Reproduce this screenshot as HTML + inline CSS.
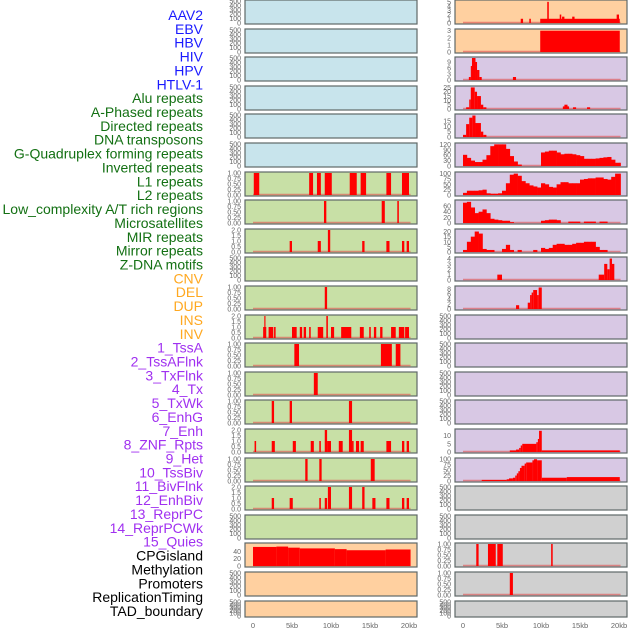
<!DOCTYPE html>
<html><head><meta charset="utf-8"><style>
body{margin:0;background:#fff;width:630px;height:630px;overflow:hidden}
svg{display:block}
text{font-family:"Liberation Sans",sans-serif}
</style></head><body>
<svg id="chart" width="630" height="630" xmlns="http://www.w3.org/2000/svg">
<g id="labels"></g>
<g id="panels"></g>
</svg>
<script>
// ---- data ----
const labelNames = ["AAV2","EBV","HBV","HIV","HPV","HTLV-1","Alu repeats","A-Phased repeats","Directed repeats","DNA transposons","G-Quadruplex forming repeats","Inverted repeats","L1 repeats","L2 repeats","Low_complexity A/T rich regions","Microsatellites","MIR repeats","Mirror repeats","Z-DNA motifs","CNV","DEL","DUP","INS","INV","1_TssA","2_TssAFlnk","3_TxFlnk","4_Tx","5_TxWk","6_EnhG","7_Enh","8_ZNF_Rpts","9_Het","10_TssBiv","11_BivFlnk","12_EnhBiv","13_ReprPC","14_ReprPCWk","15_Quies","CPGisland","Methylation","Promoters","ReplicationTiming","TAD_boundary"];
const labelGroups = ["v","v","v","v","v","v","r","r","r","r","r","r","r","r","r","r","r","r","r","s","s","s","s","s","c","c","c","c","c","c","c","c","c","c","c","c","c","c","c","k","k","k","k","k"];
const xTicks = [0,5,10,15,20];
const xTickLabels = ["0","5kb","10kb","15kb","20kb"];
const EMPTY_TICKS = [0,100,200,300,400,500];
const T1 = [0,0.25,0.5,0.75,1], T1L = ["0.00","0.25","0.50","0.75","1.00"];
const T2 = [0,0.5,1,1.5,2], T2L = ["0.0","0.5","1.0","1.5","2.0"];
// segments [start_kb, end_kb, value]
const segL7 = [[0.1,0.8,1],[7.2,7.7,1],[8.2,8.7,1],[9.2,10.1,1],[12.4,13.3,1],[13.8,14.5,1],[17.1,17.7,1],[19.1,20.0,1]];
const segL8 = [[9.1,9.4,1],[16.5,16.9,1],[18.5,18.7,1]];
const segL9 = [[4.7,5.0,1],[8.3,8.7,1],[9.6,9.9,2],[14.0,14.3,1],[17.1,17.5,1],[19.1,19.4,1],[19.7,20.0,1]];
const segL11 = [[9.2,9.5,1]];
const segL12 = [[1.3,1.7,1],[1.45,1.6,2],[2.0,2.6,1],[2.7,2.9,1],[5.0,5.6,1],[6.0,6.3,1],[6.5,6.8,1],[7.2,7.4,1],[8.3,9.0,1],[9.4,9.6,2],[10.0,10.4,1],[11.3,12.6,1],[13.7,14.2,1],[14.9,15.1,1],[15.5,15.8,1],[16.3,16.6,1],[17.7,18.3,1],[18.7,19.4,1],[19.5,20.0,1]];
const segL13 = [[5.3,5.9,1],[16.4,17.8,1],[18.3,18.9,1]];
const segL14 = [[7.8,8.3,1]];
const segL15 = [[2.4,2.7,1],[4.7,5.0,1],[12.3,12.7,1]];
const segL16 = [[0.2,0.4,1],[2.4,2.8,1],[5.1,5.5,1],[7.4,7.8,1],[8.5,8.7,1],[9.2,9.5,2],[9.5,10.0,1],[11.0,11.5,1],[12.3,12.7,2],[12.7,12.9,1],[13.2,13.6,1],[13.8,14.2,1],[17.1,17.7,1],[19.1,19.4,1],[19.7,20.0,1]];
const segL17 = [[6.7,7.0,1],[8.5,8.8,1],[15.1,15.6,1]];
const segL18 = [[2.4,2.7,1],[4.7,5.1,1],[8.5,8.7,1],[9.2,9.5,1],[9.6,10.0,2],[12.3,12.7,2],[14.0,14.3,2],[15.3,15.7,1],[17.1,17.5,1],[19.1,19.4,1],[19.7,20.0,1]];
const segL20 = [[0,3,52],[3,4.5,53],[4.5,6,50],[6,10.5,48],[10.5,12,46],[12,17,43],[17,20.2,45]];
const segR1 = [[7.4,7.7,1],[8.5,8.7,1],[9.9,20.1,1],[10.8,11.0,5],[12.4,12.6,2],[12.7,13.0,1.5],[14.0,14.3,1.5],[19.7,20.0,2]];
const segR2 = [[9.9,20.1,3]];
const segR3 = [[0.75,1.0,1.5],[1.0,1.15,7],[1.15,1.6,11],[1.6,1.8,9],[1.8,2.1,5],[2.1,2.4,1.5],[6.4,6.8,1.5]];
const segR4 = [[0.4,0.8,2],[0.8,1.0,11],[1.0,1.5,25],[1.5,1.8,20],[1.8,2.3,15],[2.3,2.6,5],[2.6,3.0,2],[12.8,13.6,3],[13.0,13.4,5],[14.1,14.5,2],[15.9,16.3,2]];
const segR5 = [[0,0.4,2],[0.4,0.8,12],[0.8,1.2,18],[1.2,1.6,20],[1.6,2.3,13],[2.3,2.6,5],[2.6,3.0,2]];
const binsR6 = [62,45,30,22,22,35,60,110,120,120,120,95,55,25,8,0,0,0,0,0,75,80,85,85,75,65,68,68,65,60,55,40,40,40,42,45,48,50,35,18,18];
const binsR7 = [10,20,20,20,22,25,8,6,6,8,20,55,95,100,90,65,55,45,40,35,55,50,38,35,50,60,60,55,55,55,72,75,78,78,82,82,75,72,85,100,100];
const binsR8 = [72,75,55,35,40,48,35,15,12,10,8,8,3,0,0,0,0,0,0,0,8,10,12,12,10,0,0,5,5,5,0,5,5,5,0,5,5,0,0,0,0];
const binsR9 = [2,10,15,20,18,3,2,2,0,0,3,7,2,0,2,0,0,0,2,0,4,3,4,7,8,8,7,7,8,9,9,10,10,10,5,2,2,0,0,0,0];
const segR10 = [[4.4,5.0,1],[17.4,18.1,1],[18.1,18.5,3],[18.5,18.8,2],[18.8,19.1,4],[19.1,19.4,3]];
const segR11 = [[6.8,7.2,1.5],[8.3,8.6,2.5],[8.6,8.8,5.5],[8.8,9.0,6.5],[9.0,9.5,7.5],[9.5,9.7,5.5],[9.7,10.1,8.5]];
const segR16 = [[6.0,6.8,1],[6.8,7.2,1.5],[7.2,7.4,2.5],[7.4,7.6,4],[7.6,9.4,5],[9.4,9.6,6],[9.6,9.75,8],[9.75,10.1,13],[10.1,20.1,1]];
const segR17 = [[2.4,5.6,5],[5.6,5.9,8],[5.9,6.4,12],[6.4,6.7,15],[6.7,6.9,25],[6.9,7.1,35],[7.1,7.3,45],[7.3,7.5,60],[7.5,7.9,70],[7.9,8.1,80],[8.1,8.9,85],[8.9,9.1,95],[9.1,9.5,100],[9.5,10.1,95],[10.1,13.3,15],[13.3,20.1,18]];
const segR20 = [[1.7,2.0,1],[3.2,4.2,1],[4.4,5.1,1],[11.3,11.5,1]];
const segR21 = [[6.0,6.4,1]];

const BLUE="#c8e4ec", GREEN="#c8e0a6", ORANGE="#ffd0a0", PURPLE="#d8c8e4", GRAY="#d0d0d0";
const E = {ymax:500,ticks:EMPTY_TICKS,tl:EMPTY_TICKS.map(String)};
const P1 = {ymax:1,ticks:T1,tl:T1L}, P2 = {ymax:2,ticks:T2,tl:T2L};
function num(a){return a.map(String);}
const leftPanels = [
 [BLUE,E],[BLUE,E],[BLUE,E],[BLUE,E],[BLUE,E],[BLUE,E],
 [GREEN,P1,segL7],[GREEN,P1,segL8],[GREEN,P2,segL9],[GREEN,E],[GREEN,P1,segL11],[GREEN,P2,segL12],
 [GREEN,P1,segL13],[GREEN,P1,segL14],[GREEN,P1,segL15],[GREEN,P2,segL16],[GREEN,P1,segL17],[GREEN,P2,segL18],[GREEN,E],
 [ORANGE,{ymax:60,ticks:[0,20,40],tl:["0","20","40"]},segL20],[ORANGE,E],[ORANGE,E]
];
const rightPanels = [
 [ORANGE,{ymax:5.2,ticks:[0,1,2,3,4,5],tl:num([0,1,2,3,4,5])},segR1],
 [ORANGE,{ymax:3.1,ticks:[0,1,2,3],tl:num([0,1,2,3])},segR2],
 [PURPLE,{ymax:11,ticks:[0,3,6,9],tl:num([0,3,6,9])},segR3],
 [PURPLE,{ymax:25.5,ticks:[0,5,10,15,20,25],tl:num([0,5,10,15,20,25])},segR4],
 [PURPLE,{ymax:20.5,ticks:[0,5,10,15],tl:num([0,5,10,15])},segR5],
 [PURPLE,{ymax:122,ticks:[0,30,60,90,120],tl:num([0,30,60,90,120])},null,binsR6],
 [PURPLE,{ymax:103,ticks:[0,25,50,75,100],tl:num([0,25,50,75,100])},null,binsR7],
 [PURPLE,{ymax:78,ticks:[0,20,40,60],tl:num([0,20,40,60])},null,binsR8],
 [PURPLE,{ymax:21.5,ticks:[0,5,10,15,20],tl:num([0,5,10,15,20])},null,binsR9],
 [PURPLE,{ymax:4.1,ticks:[0,1,2,3,4],tl:num([0,1,2,3,4])},segR10],
 [PURPLE,{ymax:8.7,ticks:[0,2,4,6,8],tl:num([0,2,4,6,8])},segR11],
 [PURPLE,E],[PURPLE,E],[PURPLE,E],[PURPLE,E],
 [PURPLE,{ymax:13.5,ticks:[0,5,10],tl:num([0,5,10])},segR16],
 [PURPLE,{ymax:101,ticks:[0,25,50,75,100],tl:num([0,25,50,75,100])},segR17],
 [GRAY,E],[GRAY,E],
 [GRAY,P1,segR20],[GRAY,P1,segR21],[GRAY,E]
];
const NS="http://www.w3.org/2000/svg";
function mk(tag,attrs,parent){const e=document.createElementNS(NS,tag);for(const k in attrs)e.setAttribute(k,attrs[k]);parent.appendChild(e);return e;}
const labG=document.getElementById('labels'), panG=document.getElementById('panels');
const colors={v:"#1a1aff",r:"#137013",s:"#ffa820",c:"#a030f0",k:"#000"};
labelNames.forEach((n,i)=>{
  const t=mk('text',{x:203,y:15+i*13.86+5,'text-anchor':'end','font-size':14,fill:colors[labelGroups[i]]},labG);
  
  
  t.textContent=n;
});
function drawCol(panels,x0,side){
  const W=172;
  const xs=kb=>x0+8+kb*7.8;
  panels.forEach((p,i)=>{
    const top=Math.round(i*28.6), h=(i===21?16:24), bot=top+h;
    const g=mk('g',{},panG);
    
    
    mk('rect',{x:x0,y:top,width:W,height:h,fill:p[0],stroke:'#5f6868','stroke-width':1.2},g);
    const sc=p[1];
    const ys=v=>bot-1-v/sc.ymax*(h-2);
    sc.ticks.forEach((tv,k)=>{
      const t=mk('text',{x:x0-4,y:ys(tv)+2.5,'text-anchor':'end','font-size':7,fill:'#666'},g);
      
      
      t.textContent=sc.tl[k];
    });
    const segs=p[2], bins=p[3];
    if(segs||bins){
      const bl=mk('line',{x1:xs(0),x2:xs(20.2),y1:ys(0)-0.5,y2:ys(0)-0.5,stroke:'#e05050','stroke-opacity':0.6,'stroke-width':1.6},g);
      
      
    }
    if(segs) segs.forEach(s=>{
      const r=mk('rect',{x:xs(s[0]),y:ys(s[2]),width:Math.max(0.8,xs(s[1])-xs(s[0])),height:ys(0)-ys(s[2]),fill:'#ff0000'},g);
      
      
    });
    if(bins) bins.forEach((v,k)=>{
      if(!v) return;
      const a=k*0.5, b=Math.min(20.2,a+0.5);
      const r=mk('rect',{x:xs(a),y:ys(v),width:xs(b)-xs(a)+0.3,height:ys(0)-ys(v),fill:'#ff0000'},g);
      
      
    });
  });
  xTicks.forEach((tv,k)=>{
    const t=mk('text',{x:xs(tv),y:628,'text-anchor':'middle','font-size':7.5,fill:'#666'},panG);
    
    
    t.textContent=xTickLabels[k];
  });
}
drawCol(leftPanels,245,'left');
drawCol(rightPanels,455,'right');
</script>
</body></html>
